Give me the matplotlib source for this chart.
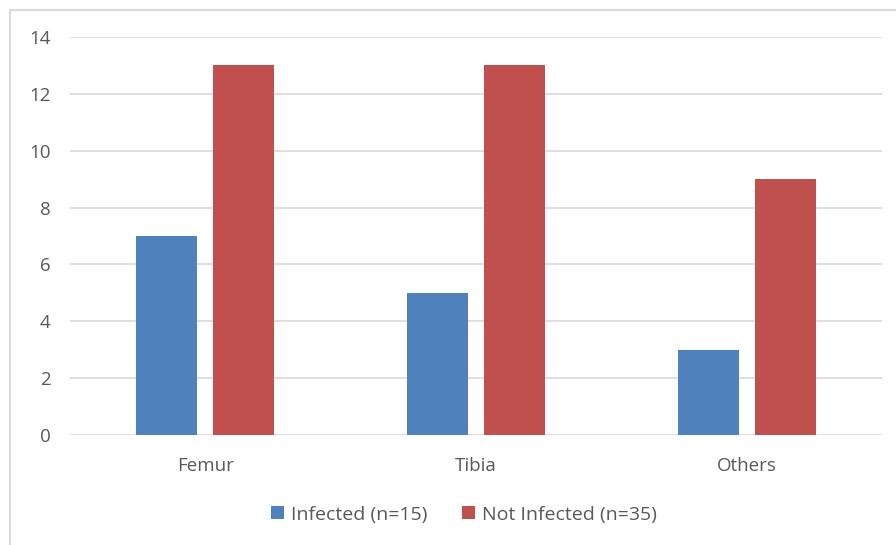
import matplotlib
matplotlib.use("Agg")
import matplotlib.pyplot as plt
from matplotlib.patches import Rectangle
import numpy as np

categories = ["Femur", "Tibia", "Others"]
infected = [7, 5, 3]
not_infected = [13, 13, 9]
series_names = ["Infected (n=15)", "Not Infected (n=35)"]
yticks = [0, 2, 4, 6, 8, 10, 12, 14]

W, H = 896, 545
fig = plt.figure(figsize=(W / 100, H / 100), dpi=100)
plt.rcParams['font.family'] = ['Open Sans', 'DejaVu Sans']

# outer border (cropped at right/bottom)
fig.patches.append(Rectangle((10 / W, -0.1), 2, 1.1 - 10 / H, transform=fig.transFigure,
                             fill=False, edgecolor="#D9D9D9", linewidth=1.5))

ax = fig.add_axes([70 / W, 1 - 435 / H, (882 - 70) / W, (435 - 37) / H])
x = np.arange(len(categories))
bw = 0.225
off = 0.142
ax.bar(x - off, infected, bw, color="#4F81BD", label=series_names[0], zorder=3)
ax.bar(x + off, not_infected, bw, color="#C0504D", label=series_names[1], zorder=3)
ax.set_xlim(-0.5, 2.5)
ax.set_ylim(0, 14)
ax.set_yticks(yticks)
ax.set_xticks(x)
ax.set_xticklabels(categories)
ax.grid(axis="y", color="#D9D9D9", linewidth=1.2, zorder=0)
for s in ax.spines.values():
    s.set_visible(False)
ax.tick_params(length=0, colors="#595959", labelsize=13.5)
ax.tick_params(axis="y", pad=14)
ax.tick_params(axis="x", pad=16)

ax.legend(loc="center", bbox_to_anchor=(0.5 - 12 / 812, -0.2), ncol=2, frameon=False,
          fontsize=14, labelcolor="#595959", handlelength=0.68, handleheight=0.68,
          handletextpad=0.35, columnspacing=1.8)

fig.savefig("out.png", dpi=100)
